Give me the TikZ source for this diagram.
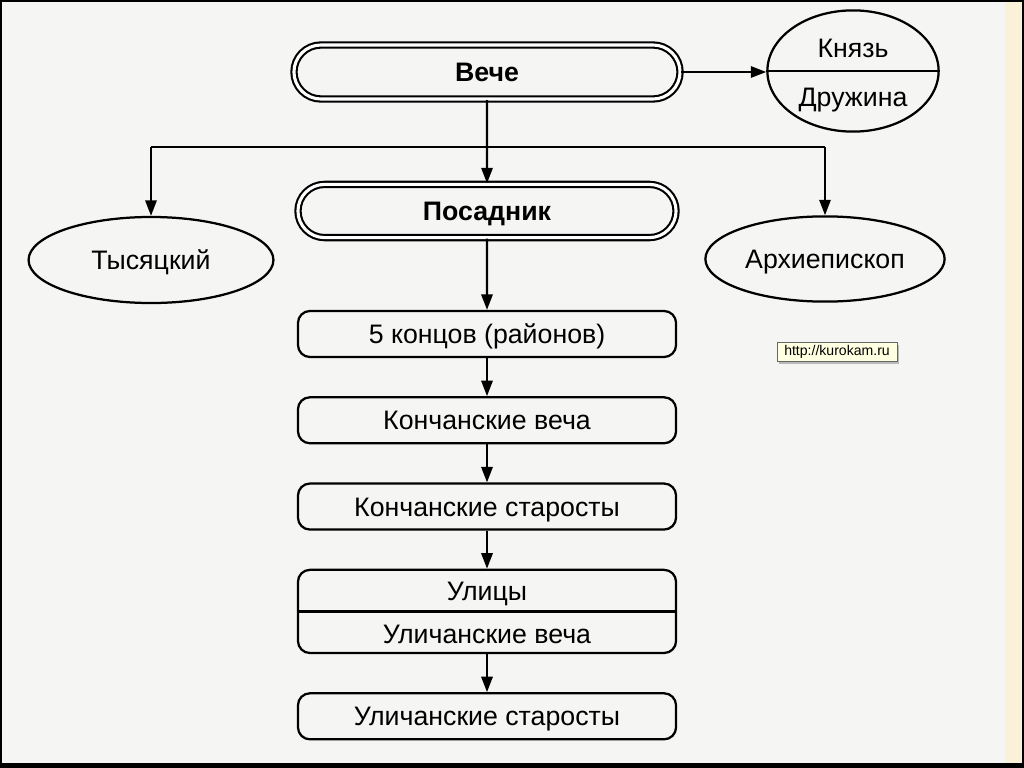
\documentclass[tikz,border=0pt]{standalone}
\usepackage{fontspec}
\setmainfont{Liberation Sans}
\usetikzlibrary{chains,positioning,shapes.geometric,shapes.misc,arrows.meta,shadows}

\definecolor{paper}{HTML}{F5F5F3}
\definecolor{strip}{HTML}{FAF1D8}
\definecolor{tipfill}{HTML}{FFFFE1}

\begin{document}
\begin{tikzpicture}[x=0.025cm,y=-0.025cm]
\tikzstyle{every path}=[line width=1.6pt]

\tikzstyle{txt}=[font=\fontsize{19}{22}\selectfont,text height=13.6pt,text depth=0pt]
\tikzstyle{council}=[rounded rectangle,draw,double,double distance=2.2pt,
  line width=1.5pt,inner sep=0pt,text height=13.6pt,text depth=0pt,
  font=\fontsize{19}{22}\selectfont\bfseries]
\tikzstyle{officer}=[ellipse,draw,inner sep=0pt,txt]
\tikzstyle{level}=[draw,rounded corners=0.3cm,minimum width=9.45cm,
  minimum height=1.15cm,inner sep=0pt,txt]
\tikzstyle{link}=[-{Triangle[length=11pt,width=8pt]}]

%% Paper and frame
\useasboundingbox (0,0) rectangle (1024,768);
\fill[paper] (0,0) rectangle (1024,768);
\fill[strip] (1005,0) rectangle (1024,768);
\draw[line width=1.2pt] (1,1) rectangle (1023,766);
\fill (0,763) rectangle (1024,768);

%% Top: veche, prince, posadnik
\node [council,minimum width=9.65cm,minimum height=1.35cm] at (487,72) (veche) {Вече};
\node [officer,minimum width=4.28cm,minimum height=3.03cm] at (853,71) (prince) {};
\node [txt] at (853,48) (knyaz) {Князь};
\node [txt] at (853,97) (druzhina) {Дружина};
\draw (prince.west) -- (prince.east);

\node [council,minimum width=9.45cm,minimum height=1.33cm] at (487,211) (posadnik) {Посадник};
\node [officer,minimum width=6.12cm,minimum height=2.15cm] at (151,260) (tys) {Тысяцкий};
\node [officer,minimum width=5.98cm,minimum height=2.13cm] at (825,259) (arch) {Архиепископ};

%% Column of town levels
\begin{scope}[start chain=col going below,node distance=0.95cm]
    \node [on chain=col,level] at (487,334) (districts) {5 концов (районов)};
    \node [on chain=col,level] (kvecha) {Кончанские веча};
    \node [on chain=col,level] (kstar) {Кончанские старосты};
    \node [on chain=col,level,minimum height=2.08cm] (streets) {};
    \node [on chain=col,level] (ustar) {Уличанские старосты};
\end{scope}
\node [txt] at ([yshift=0.51cm]streets.center) (ulitsy) {Улицы};
\node [txt] at ([yshift=-0.56cm]streets.center) (uvecha) {Уличанские веча};
\draw (streets.west) -- (streets.east);

%% Connectors
\coordinate (fork) at (487,147);
\draw[link] (veche.east) -- (veche.east -| prince.west);
\draw[link] (veche) -- (posadnik);
\draw (tys.north |- fork) -- (arch.north |- fork);
\draw[link] (tys.north |- fork) -- (tys.north);
\draw[link] (arch.north |- fork) -- (arch.north);
\draw[link] (posadnik) -- (districts);
\draw[link] (districts) -- (kvecha);
\draw[link] (kvecha) -- (kstar);
\draw[link] (kstar) -- (streets);
\draw[link] (streets) -- (ustar);

%% Browser tooltip
\node [draw=black!60,line width=0.6pt,fill=tipfill,inner sep=2pt,
  minimum width=3.0cm,minimum height=0.48cm,font=\fontsize{10}{12}\selectfont,
  drop shadow={shadow xshift=1.5pt,shadow yshift=-1.5pt,opacity=0.5}]
  at (837,352) (url) {http://kurokam.ru};
\end{tikzpicture}
\end{document}
